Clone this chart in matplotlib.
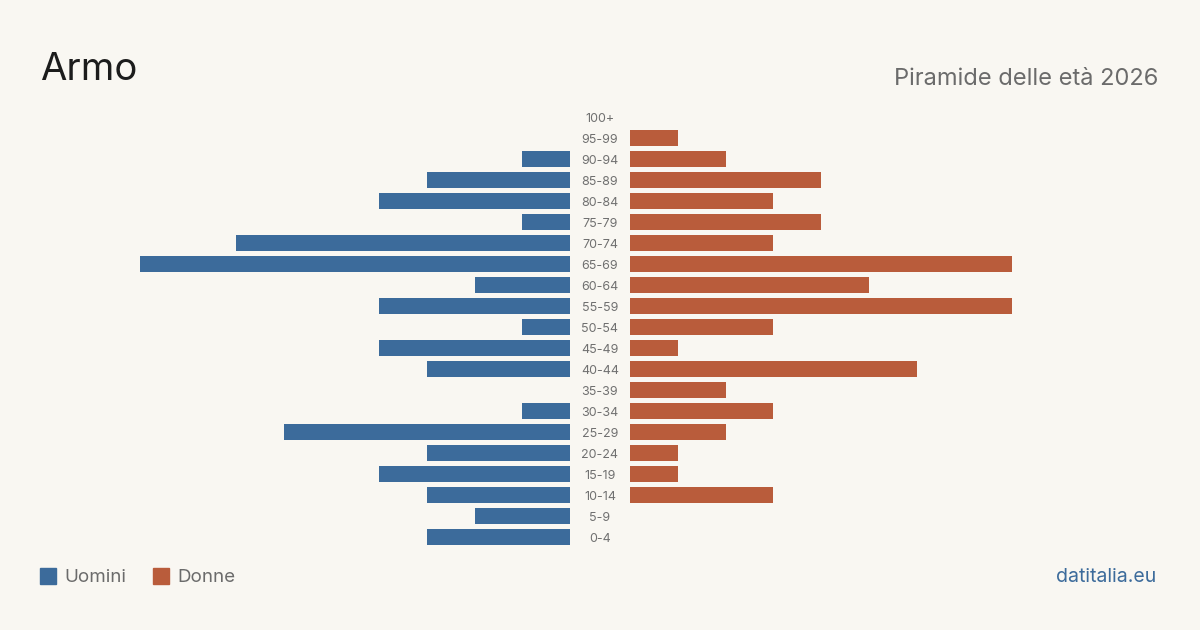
import matplotlib
matplotlib.use("Agg")
import matplotlib.pyplot as plt
from matplotlib.patches import Rectangle

ages = ["0-4", "5-9", "10-14", "15-19", "20-24", "25-29", "30-34", "35-39",
        "40-44", "45-49", "50-54", "55-59", "60-64", "65-69", "70-74",
        "75-79", "80-84", "85-89", "90-94", "95-99", "100+"]
men = [3, 2, 3, 4, 3, 6, 1, 0, 3, 4, 1, 4, 2, 9, 7, 1, 4, 3, 1, 0, 0]
women = [0, 0, 3, 1, 1, 2, 3, 2, 6, 1, 3, 8, 5, 8, 3, 4, 3, 4, 2, 1, 0]

BG = "#f9f7f2"
BLUE = "#3c6b9b"
ORANGE = "#b95c3b"
GREY = "#6b6b6b"
FONT = ["Inter", "DejaVu Sans"]

W, H = 1200, 630
fig = plt.figure(figsize=(12, 6.3), dpi=100, facecolor=BG)

unit = 47.75
top_px = 106.5
rows = len(ages)
row_h = 21.0
ax_h = rows * row_h
bottom = (H - (top_px + ax_h)) / H

axL = fig.add_axes([(570 - 9 * unit) / W, bottom, 9 * unit / W, ax_h / H])
axR = fig.add_axes([630 / W, bottom, 9 * unit / W, ax_h / H])
y = list(range(rows))
axL.barh(y, men, height=0.8, color=BLUE)
axR.barh(y, women, height=0.8, color=ORANGE)
axL.set_xlim(9, 0)
axR.set_xlim(0, 9)
for ax in (axL, axR):
    ax.set_ylim(-0.5, rows - 0.5)
    ax.axis("off")
    ax.set_facecolor("none")

for i, a in enumerate(ages):
    yc = top_px + ax_h - (i + 0.5) * row_h
    fig.text(600 / W, (H - (yc + 4.6)) / H, a, ha="center", va="baseline",
             fontsize=9, color="#707070", family=FONT)

fig.text(40 / W, (630 - 79.5) / H, "Armo", fontsize=27.5, color="#1c1c1c",
         family=FONT, ha="left", va="baseline")
fig.text(1158 / W, (630 - 85) / H, "Piramide delle età 2026", fontsize=17,
         color=GREY, family=FONT, ha="right", va="baseline")

# legend
for x0, col, lab in [(40, BLUE, "Uomini"), (153, ORANGE, "Donne")]:
    fig.patches.append(Rectangle((x0 / W, (630 - 584) / H), 16 / W, 16 / H,
                                 transform=fig.transFigure, color=col))
    fig.text((x0 + 24) / W, (630 - 582.5) / H, lab, fontsize=13.5, color=GREY,
             family=FONT, ha="left", va="baseline")

fig.text(1156 / W, (630 - 582.5) / H, "datitalia.eu", fontsize=14, color=BLUE,
         family=FONT, ha="right", va="baseline")

fig.savefig("out.png", dpi=100, facecolor=BG)
